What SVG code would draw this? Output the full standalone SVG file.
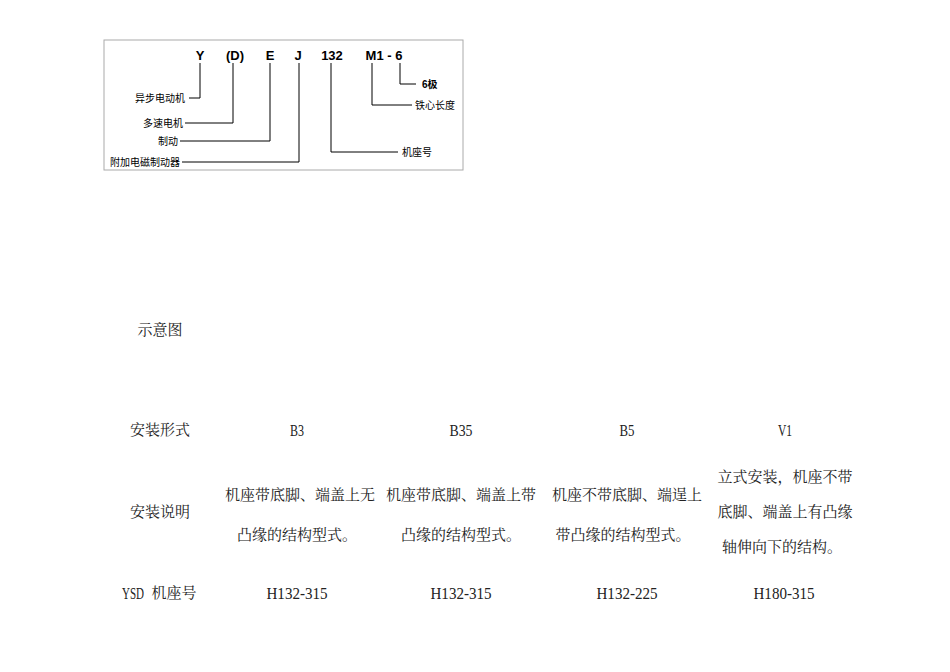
<svg xmlns="http://www.w3.org/2000/svg" width="950" height="672" viewBox="0 0 950 672">
<style>
.code{font-family:"Liberation Sans",Arial,sans-serif;font-weight:bold;font-size:13px;fill:#000;text-anchor:middle;dominant-baseline:central}
.lbl{font-family:"Liberation Sans","Noto Sans CJK SC",sans-serif;font-size:10px;fill:#000;dominant-baseline:central}
.ln{fill:none;stroke:#000;stroke-width:1}
.t{font-family:"Liberation Serif","Noto Serif CJK SC","Noto Sans CJK SC",serif;font-size:15px;fill:#222;text-anchor:middle;dominant-baseline:central}
.m{font-family:"Liberation Serif",serif;font-size:16px;fill:#222;text-anchor:middle;dominant-baseline:central}
</style>
<rect width="950" height="672" fill="#fff"/>
<g id="model-code">
<rect x="104" y="40" width="359" height="130" fill="#fff" stroke="#aaa" stroke-width="1"/>
<text class="code" x="200" y="55">Y</text>
<text class="code" x="235" y="55">(D)</text>
<text class="code" x="270" y="55">E</text>
<text class="code" x="298" y="55">J</text>
<text class="code" x="332" y="55">132</text>
<text class="code" x="384" y="55">M1 - 6</text>
</g>
<g id="connectors">
<path class="ln" d="M200,63 V98 H189"/>
<path class="ln" d="M233,63 V123 H185"/>
<path class="ln" d="M270,63 V141 H180"/>
<path class="ln" d="M299,63 V162 H182"/>
<path class="ln" d="M331,63 V152 H398"/>
<path class="ln" d="M372,63 V105 H412"/>
<path class="ln" d="M400,63 V84 H416"/>
</g>
<g id="labels">
<text class="lbl" x="185" y="98" text-anchor="end">异步电动机</text>
<text class="lbl" x="183" y="123" text-anchor="end">多速电机</text>
<text class="lbl" x="178" y="141" text-anchor="end">制动</text>
<text class="lbl" x="180" y="162" text-anchor="end">附加电磁制动器</text>
<text class="lbl" x="402" y="152">机座号</text>
<text class="lbl" x="415" y="105">铁心长度</text>
<text class="lbl" x="422" y="84" font-weight="bold">6极</text>
</g>
<g id="table">
<text class="t" x="160" y="330">示意图</text>
<text class="t" x="160" y="430">安装形式</text>
<text class="m" x="297" y="430" textLength="14" lengthAdjust="spacingAndGlyphs">B3</text>
<text class="m" x="461" y="430" textLength="23" lengthAdjust="spacingAndGlyphs">B35</text>
<text class="m" x="627" y="430" textLength="15" lengthAdjust="spacingAndGlyphs">B5</text>
<text class="m" x="785" y="430" textLength="14" lengthAdjust="spacingAndGlyphs">V1</text>
<text class="t" x="160" y="512">安装说明</text>
<text class="t" x="300" y="495">机座带底脚、端盖上无</text>
<text class="t" x="297" y="535">凸缘的结构型式。</text>
<text class="t" x="461" y="495">机座带底脚、端盖上带</text>
<text class="t" x="461" y="535">凸缘的结构型式。</text>
<text class="t" x="627" y="495">机座不带底脚、端逞上</text>
<text class="t" x="623" y="535">带凸缘的结构型式。</text>
<text class="t" x="785" y="477">立式安装，机座不带</text>
<text class="t" x="785" y="512">底脚、端盖上有凸缘</text>
<text class="t" x="782" y="547">轴伸向下的结构。</text>
<text class="m" x="133" y="593" font-size="14" textLength="22" lengthAdjust="spacingAndGlyphs">YSD</text>
<text class="t" x="174" y="593">机座号</text>
<text class="m" x="297" y="593" textLength="61" lengthAdjust="spacingAndGlyphs">H132-315</text>
<text class="m" x="461" y="593" textLength="61" lengthAdjust="spacingAndGlyphs">H132-315</text>
<text class="m" x="627" y="593" textLength="61" lengthAdjust="spacingAndGlyphs">H132-225</text>
<text class="m" x="784" y="593" textLength="61" lengthAdjust="spacingAndGlyphs">H180-315</text>
</g>
</svg>
